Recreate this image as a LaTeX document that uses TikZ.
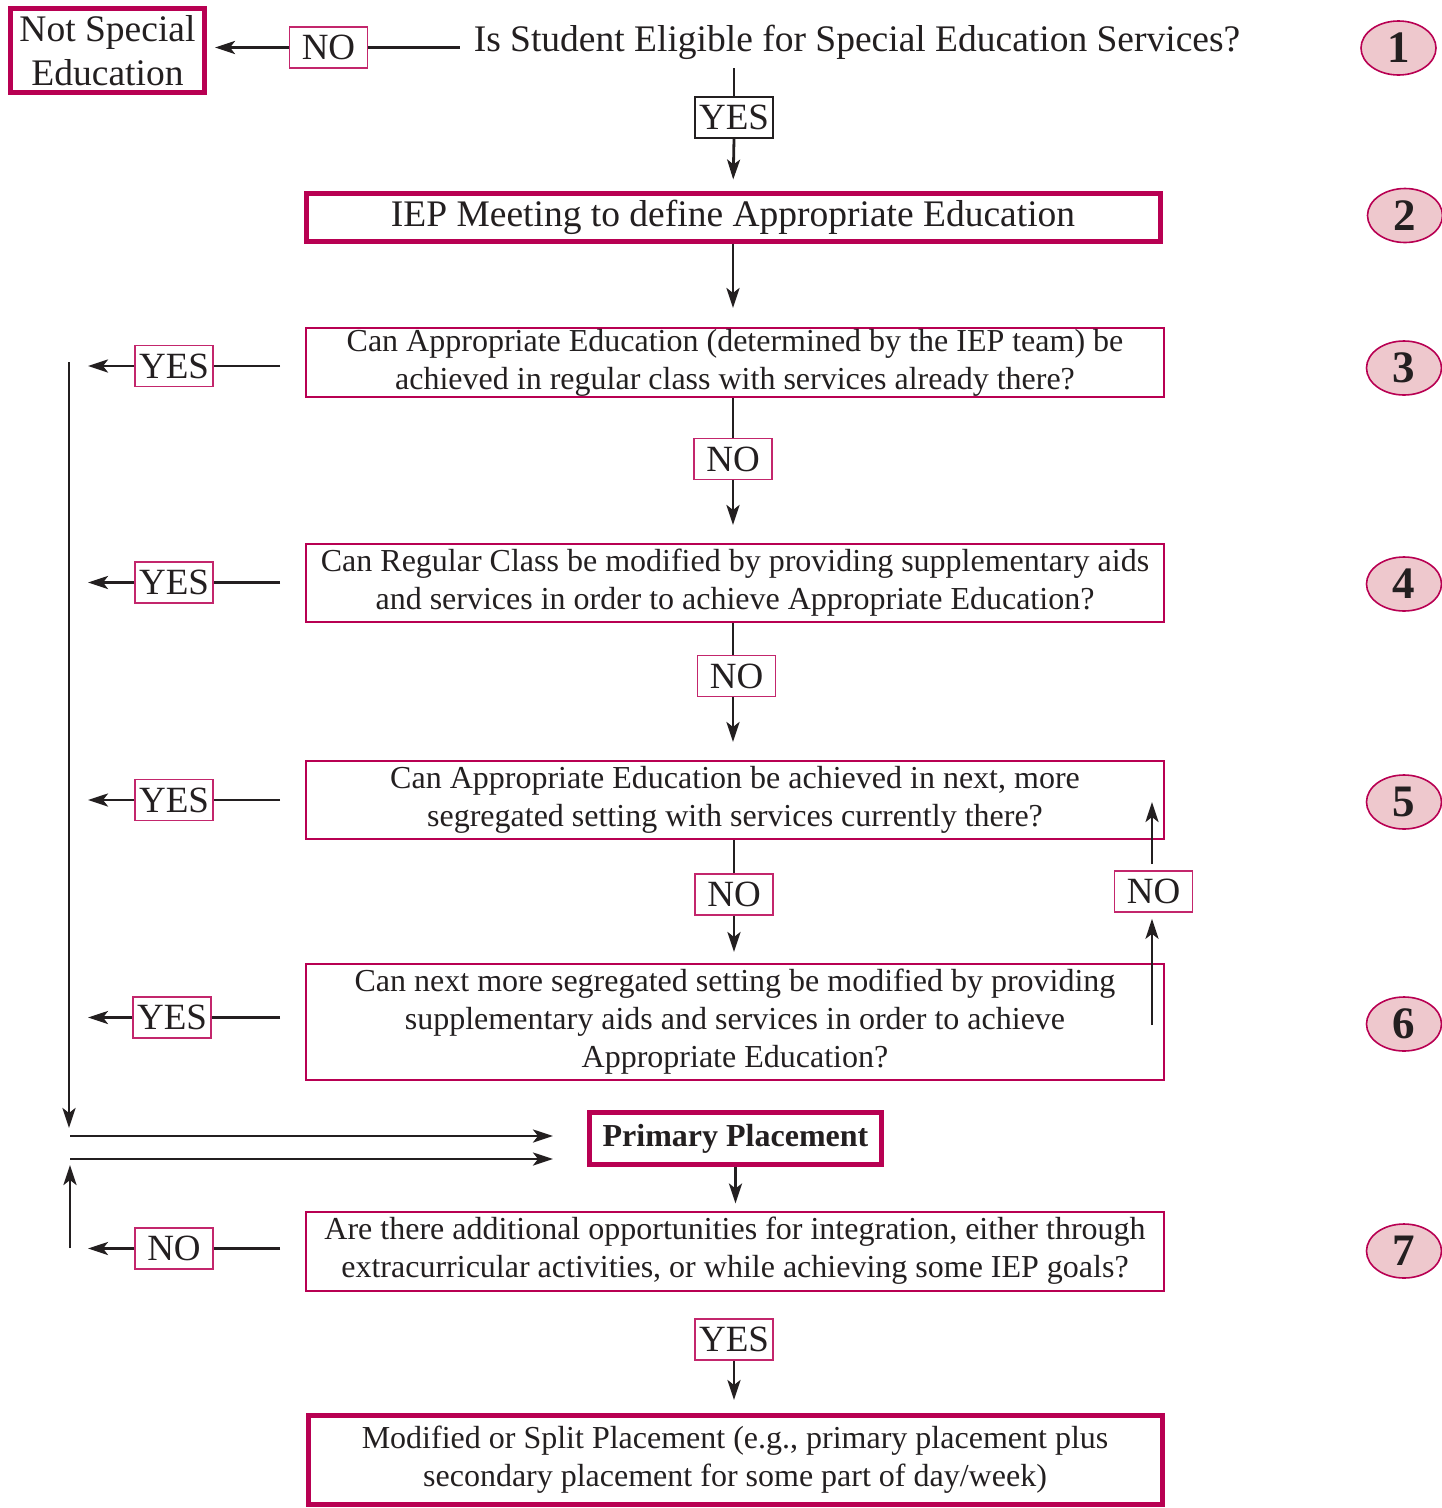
\documentclass[tikz,border=0pt]{standalone}
\usepackage{fontspec}
\setmainfont{Liberation Serif}
\usetikzlibrary{arrows.meta,calc,positioning,shapes.geometric}
\definecolor{plum}{RGB}{184,0,82}
\definecolor{blush}{RGB}{238,200,205}
\definecolor{ink}{RGB}{35,31,32}
\tikzstyle{question}=[
  draw=plum,
  line width=2pt,
  font={\fontsize{32}{38}\selectfont},
  align=center,
  inner sep=0pt,
  minimum width=858pt,
  text=ink,
]
\tikzstyle{outcome}=[
  draw=plum,
  line width=5pt,
  font={\fontsize{37.5}{44}\selectfont},
  align=center,
  inner sep=0pt,
  text=ink,
]
\tikzstyle{answer}=[
  draw=plum!85,
  line width=1.6pt,
  font={\fontsize{37}{40}\selectfont},
  inner sep=0pt,
  minimum width=78pt,
  minimum height=41pt,
  text=ink,
]
\tikzstyle{stepnum}=[
  ellipse,
  draw=plum,
  line width=1.6pt,
  fill=blush,
  font={\fontsize{45}{45}\selectfont\bfseries},
  minimum width=75pt,
  minimum height=54pt,
  inner sep=0pt,
  text=ink,
]
\tikzstyle{arrow}=[
  color=ink,
  line width=2.8pt,
]
\tikzset{
  >={Stealth[length=20pt,width=13pt,inset=5pt]},
}
\begin{document}
\begin{tikzpicture}[x=1pt,y=-1pt]
  \useasboundingbox (0,0) rectangle (1442,1508);
  %% step 1
  \node (title) [font={\fontsize{37.5}{44}\selectfont}, text=ink, inner sep=0pt] at (857,42)
    {Is Student Eligible for Special Education Services?};
  \node (notspecial) [outcome, minimum width=194pt, minimum height=84pt] at (107.5,50.5)
    {Not Special\\Education};
  \node (no1) [answer] at (328.5,47.5) {NO};
  \node (yes1) [answer, draw=ink] at (734,117.5) {YES};
  \coordinate (t1) at (734,68);
  %% step 2
  \node (iep) [outcome, minimum width=854pt, minimum height=48pt] at (733,217)
    {IEP Meeting to define Appropriate Education};
  %% steps 3 to 6
  \node (q3) [question, minimum height=69pt] at (735,362.5)
    {Can Appropriate Education (determined by the IEP team) be\\achieved in regular class with services already there?};
  \node (no3) [answer] at (733,459) {NO};
  \node (q4) [question, minimum height=78pt] at (735,583)
    {Can Regular Class be modified by providing supplementary aids\\and services in order to achieve Appropriate Education?};
  \node (no4) [answer] at (736.5,676) {NO};
  \node (q5) [question, minimum height=78pt] at (735,800)
    {Can Appropriate Education be achieved in next, more\\segregated setting with services currently there?};
  \node (no5) [answer] at (734,894.5) {NO};
  \node (q6) [question, minimum height=116pt] at (735,1022)
    {Can next more segregated setting be modified by providing\\supplementary aids and services in order to achieve\\Appropriate Education?};
  \node (noback) [answer] at (1153.5,891.5) {NO};
  \coordinate (loopstart) at (1152,1025);
  \coordinate (loopend) at (1152,802);
  %%
  \node (yes3) [answer] at (174,366) {YES};
  \node (yes4) [answer] at (174,582.5) {YES};
  \node (yes5) [answer] at (174,800) {YES};
  \node (yes6) [answer] at (172,1017.5) {YES};
  \coordinate (railtop) at (69,362);
  \coordinate (railbot) at (69,1128);
  %% placement
  \node (primary) [outcome, minimum width=292pt, minimum height=52pt,
    font={\fontsize{32}{38}\selectfont\bfseries}] at (735.5,1138.5) {Primary Placement};
  \coordinate (joina) at (70,1136);
  \coordinate (joinb) at (70,1159);
  \node (q7) [question, minimum height=79pt] at (735,1251)
    {Are there additional opportunities for integration, either through\\extracurricular activities, or while achieving some IEP goals?};
  \node (no7) [answer] at (174,1248.5) {NO};
  \coordinate (risebot) at (70,1248);
  \coordinate (risetop) at (70,1165);
  \node (yes7) [answer] at (734,1339.5) {YES};
  \node (final) [outcome, minimum width=854pt, minimum height=89pt,
    font={\fontsize{32}{38}\selectfont}] at (735,1460)
    {Modified or Split Placement (e.g., primary placement plus\\secondary placement for some part of day/week)};
  %% step numbers
  \node (n1) [stepnum] at (1398.5,48) {1};
  \node (n2) [stepnum] at (1405,215.5) {2};
  \node (n3) [stepnum] at (1404,368) {3};
  \node (n4) [stepnum] at (1404,584) {4};
  \node (n5) [stepnum] at (1404,802) {5};
  \node (n6) [stepnum] at (1404,1024) {6};
  \node (n7) [stepnum] at (1404,1251) {7};
  %% connectors
  \draw [arrow, shorten <=14pt] (title.west |- no1) -- (no1.east);
  \draw [->, arrow, shorten >=8pt] (no1.west) -- (notspecial.east |- no1);
  \draw [arrow] (t1) -- (yes1.north);
  \draw [->, arrow, shorten >=11pt] (yes1.south) -- (iep.north);
  \draw [->, arrow, shorten >=19pt] (iep.south) -- (q3.north -| iep);
  \draw [arrow] (q3.south -| no3) -- (no3.north);
  \draw [->, arrow, shorten >=18pt] (no3.south) -- (q4.north -| no3);
  \draw [arrow] (q4.south -| no3) -- (no4.north -| no3);
  \draw [->, arrow, shorten >=18pt] (no4.south -| no3) -- (q5.north -| no3);
  \draw [arrow] (q5.south -| no5) -- (no5.north);
  \draw [->, arrow, shorten >=11pt] (no5.south) -- (q6.north -| no5);
  \draw [->, arrow, shorten >=6pt] (loopstart) -- (noback.south -| loopstart);
  \draw [->, arrow, shorten <=6pt] (noback.north -| loopstart) -- (loopend);
  %%
  \foreach \q/\y in {q3/yes3, q4/yes4, q5/yes5, q6/yes6, q7/no7} {
    \draw [arrow, shorten <=25pt] (\y -| \q.west) -- (\y.east);
    \draw [->, arrow, shorten >=19pt] (\y.west) -- (\y -| railtop);
  }
  \draw [->, arrow] (railtop) -- (railbot);
  \draw [->, arrow, shorten >=34pt] (joina) -- (joina -| primary.west);
  \draw [->, arrow, shorten >=34pt] (joinb) -- (joinb -| primary.west);
  \draw [->, arrow] (risebot) -- (risetop);
  \draw [->, arrow, shorten >=7pt] (primary.south) -- (q7.north -| primary);
  \draw [->, arrow, shorten >=13pt] (yes7.south) -- (final.north -| yes7);
\end{tikzpicture}
\end{document}
